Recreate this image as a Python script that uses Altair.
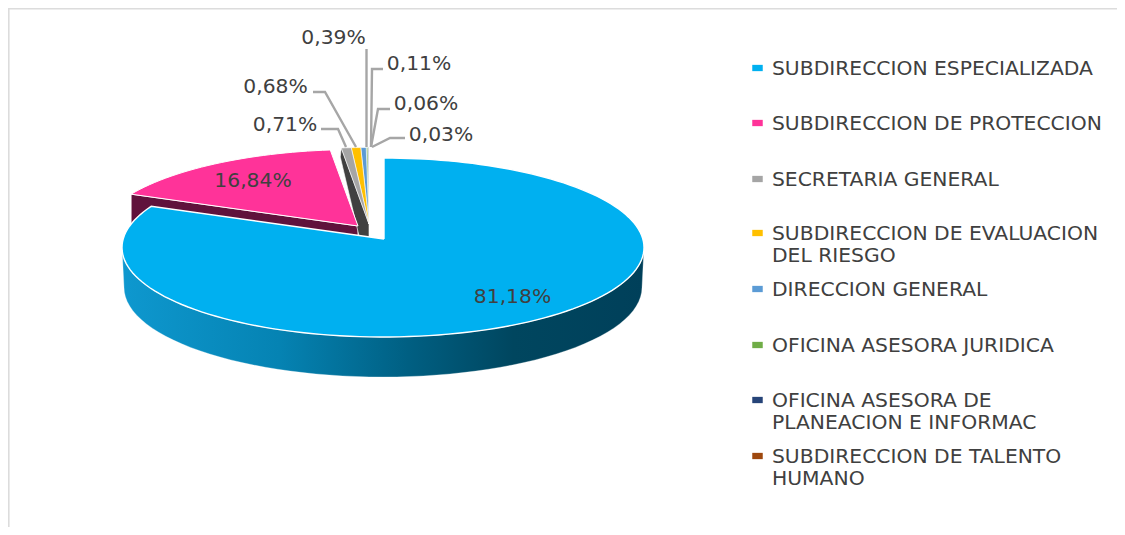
import math
import altair as alt
import pandas as pd

# ---------- data ----------
names = ["SUBDIRECCION ESPECIALIZADA", "SUBDIRECCION DE PROTECCION", "SECRETARIA GENERAL",
         "SUBDIRECCION DE EVALUACION DEL RIESGO", "DIRECCION GENERAL", "OFICINA ASESORA JURIDICA",
         "OFICINA ASESORA DE PLANEACION E INFORMAC", "SUBDIRECCION DE TALENTO HUMANO"]
shares = [81.18, 16.84, 0.71, 0.68, 0.39, 0.11, 0.06, 0.03]
colors = ["#00B0F0", "#FF3399", "#A5A5A5", "#FFC000", "#5B9BD5", "#70AD47", "#264478", "#9E480E"]
labels = ["81,18%", "16,84%", "0,71%", "0,68%", "0,39%", "0,11%", "0,06%", "0,03%"]
label_x = [512.5, 253, 285, 275.5, 333.5, 419, 426, 441]
label_y = [296, 180, 124, 86, 37, 63, 103, 134]
legend_lines = [["SUBDIRECCION ESPECIALIZADA"], ["SUBDIRECCION DE PROTECCION"], ["SECRETARIA GENERAL"],
                ["SUBDIRECCION DE EVALUACION", "DEL RIESGO"], ["DIRECCION GENERAL"], ["OFICINA ASESORA JURIDICA"],
                ["OFICINA ASESORA DE", "PLANEACION E INFORMAC"], ["SUBDIRECCION DE TALENTO", "HUMANO"]]
legend_y = [68, 123, 179, 233, 289, 345, 400, 456]
leaders = [[(321, 129), (338, 129), (346, 147)],
           [(313, 92), (325, 92), (356, 147)],
           [(366.5, 49), (366.5, 147)],
           [(383, 69), (372, 69), (371, 147)],
           [(390, 109), (378, 109), (371, 147)],
           [(405, 138), (390, 138), (372, 147)]]

# ---------- 3D pie layout ----------
RX, RY = 261, 89.5
DEPTH = 40
SLICE_GEOM = {0: ((384, 239), (383, 247.5)), 1: ((358, 226), (357, 239))}
SMALL_GEOM = ((369, 224), (368, 237))


def rim(deg, apex, centre):
    a = math.radians(deg)
    dx, dy = RX * math.sin(a), -RY * math.cos(a)
    ox, oy = (apex[0] - centre[0]) / RX, (apex[1] - centre[1]) / RY
    ux, uy = dx / RX, dy / RY
    A = ux * ux + uy * uy
    B = 2 * (ox * ux + oy * uy)
    C = ox * ox + oy * oy - 1
    t = (-B + math.sqrt(B * B - 4 * A * C)) / (2 * A)
    return apex[0] + t * dx, apex[1] + t * dy


def wedge(start, end, apex, centre):
    n = max(2, int((end - start) / 2) + 2)
    pts = [apex]
    pts += [rim(start + (end - start) * i / (n - 1), apex, centre) for i in range(n)]
    pts.append(apex)
    return pts


def poly(points, **mark):
    df = pd.DataFrame({"x": [p[0] for p in points], "y": [p[1] for p in points], "i": range(len(points))})
    return alt.Chart(df).mark_line(**mark).encode(
        x=alt.X("x:Q", scale=xs, axis=None),
        y=alt.Y("y:Q", scale=ys, axis=None),
        order="i:Q",
    )


xs = alt.Scale(domain=[8, 1117], zero=False, nice=False)
ys = alt.Scale(domain=[8, 527], zero=False, nice=False, reverse=True)

edges = [0]
for s in shares:
    edges.append(edges[-1] + s * 3.6)

layers = []

# frame
layers.append(poly([(8.8, 527), (8.8, 8.8), (1117, 8.8)], stroke="#DCDCDC", strokeWidth=1.6))

# walls behind the top faces
p_apex, p_c = SLICE_GEOM[1]
p_rim = rim(edges[1], p_apex, p_c)
layers.append(poly([p_apex, p_rim, (p_rim[0], p_rim[1] + DEPTH), (p_apex[0], p_apex[1] + DEPTH), p_apex],
                   fill="#60123C", stroke="#FFFFFF", strokeWidth=0.8))
s_apex, s_c = SMALL_GEOM
s_rim = rim(edges[2], s_apex, s_c)
layers.append(poly([s_rim, (s_rim[0] - 1, s_rim[1] + 9), (s_apex[0] - 9, s_apex[1] + 16),
                    (s_apex[0], s_apex[1] + 16), s_apex, s_rim],
                   fill="#404040", stroke="#FFFFFF", strokeWidth=0.6))

# top faces of the small and pink slices
for i in range(7, 1, -1):
    layers.append(poly(wedge(edges[i], edges[i + 1], s_apex, s_c),
                       fill=colors[i], stroke="#FFFFFF", strokeWidth=0.6))
layers.append(poly(wedge(edges[1], edges[2], p_apex, p_c), fill=colors[1], stroke="#FFFFFF", strokeWidth=1))

# side of the big slice
b_apex, b_c = SLICE_GEOM[0]
upper = [(b_c[0] + RX * math.sin(math.radians(a)), b_c[1] - RY * math.cos(math.radians(a))) for a in range(90, 271, 3)]
lower = [(b_c[0] + (RX - 2) * math.sin(math.radians(a)), b_c[1] + DEPTH - RY * math.cos(math.radians(a))) for a in range(270, 89, -3)]
side = upper + lower + [upper[0]]
grad = alt.Gradient(gradient="linear", x1=0, x2=1, y1=0, y2=0, stops=[
    alt.GradientStop(offset=0, color="#0E98CF"),
    alt.GradientStop(offset=0.3, color="#0583B3"),
    alt.GradientStop(offset=0.55, color="#005F82"),
    alt.GradientStop(offset=0.75, color="#00465F"),
    alt.GradientStop(offset=1, color="#00405A"),
])
layers.append(poly(side, fill=grad, stroke="#FFFFFF", strokeWidth=0.3))
layers.append(poly(wedge(edges[0], edges[1], b_apex, b_c), fill=colors[0], stroke="#FFFFFF", strokeWidth=1.4))

# leader lines
for seg in leaders:
    layers.append(poly(seg, stroke="#A6A6A6", strokeWidth=2.4))

FONT = "DejaVu Sans"
# data labels
lab = pd.DataFrame({"x": label_x, "y": label_y, "t": labels})
layers.append(alt.Chart(lab).mark_text(font=FONT, fontSize=20.3, dy=1, color="#404040", align="center", baseline="middle").encode(
    x=alt.X("x:Q", scale=xs, axis=None), y=alt.Y("y:Q", scale=ys, axis=None), text="t:N"))

# legend
sym = pd.DataFrame({"x": [757.5] * 8, "y": legend_y, "c": names})
layers.append(alt.Chart(sym).mark_point(shape="M-1,-0.6H1V0.6H-1Z", size=110, filled=True, opacity=1).encode(
    x=alt.X("x:Q", scale=xs, axis=None), y=alt.Y("y:Q", scale=ys, axis=None),
    color=alt.Color("c:N", scale=alt.Scale(domain=names, range=colors), legend=None)))
rows = []
for y, lines in zip(legend_y, legend_lines):
    for k, line in enumerate(lines):
        rows.append({"x": 772, "y": y + k * 22, "t": line})
layers.append(alt.Chart(pd.DataFrame(rows)).mark_text(font=FONT, fontSize=20.3, dy=1, color="#404040", align="left", baseline="middle").encode(
    x=alt.X("x:Q", scale=xs, axis=None), y=alt.Y("y:Q", scale=ys, axis=None), text="t:N"))

chart = alt.layer(*layers).resolve_scale(x="shared", y="shared", color="independent").properties(
    width=1109, height=519, padding=0, background="#FFFFFF", autosize="none"
).configure_view(stroke=None)

chart.save("out.html", embed_options={"renderer": "svg", "actions": False})
